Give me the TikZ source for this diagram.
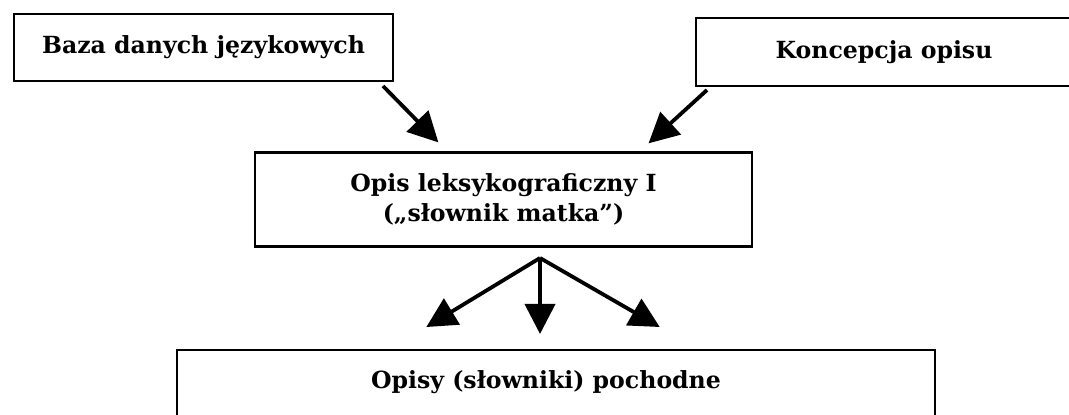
\documentclass[tikz,border=0pt]{standalone}
\usepackage{fontspec}
\setmainfont{DejaVu Serif}
\usetikzlibrary{arrows.meta}
\begin{document}
\begin{tikzpicture}[x=0.5pt,y=-0.5pt,
  box/.style={draw=black, line width=1.1pt, fill=white, inner sep=0pt, font=\bfseries\fontsize{11.8}{15}\selectfont, align=center},
  lbl/.style={inner sep=0pt, font=\bfseries\fontsize{11.8}{15}\selectfont, align=center},
  arr/.style={line width=1.9pt, -{Triangle[length=15pt,width=15pt]}, shorten >=-1pt}]
\useasboundingbox (0,0) rectangle (1069,415);
\node[box, minimum width=189.5pt, minimum height=33.5pt] (baza) at (203.5,47.5) {Baza danych językowych};
\node[box, minimum width=188pt, minimum height=34pt] (konc) at (884,52) {Koncepcja opisu};
\node[box, minimum width=248.5pt, minimum height=47pt] (opis) at (503.5,199.5) {Opis leksykograficzny I\\(„słownik matka”)};
\node[box, minimum width=379pt, minimum height=55pt] (poch) at (556,405) {};
\node[lbl] (pochT) at (546,382) {Opisy (słowniki) pochodne};
\coordinate (b1) at (383,86);
\coordinate (b2) at (437,141);
\coordinate (k1) at (707,90);
\coordinate (k2) at (650,142);
\coordinate (apex) at (540,258);
\coordinate (tl) at (428,326);
\coordinate (tm) at (540,332);
\coordinate (tr) at (658,326);
\draw[arr] (b1) -- (b2);
\draw[arr] (k1) -- (k2);
\draw[arr] (apex) -- (tl);
\draw[arr] (apex) -- (tm);
\draw[arr] (apex) -- (tr);
\end{tikzpicture}
\end{document}
